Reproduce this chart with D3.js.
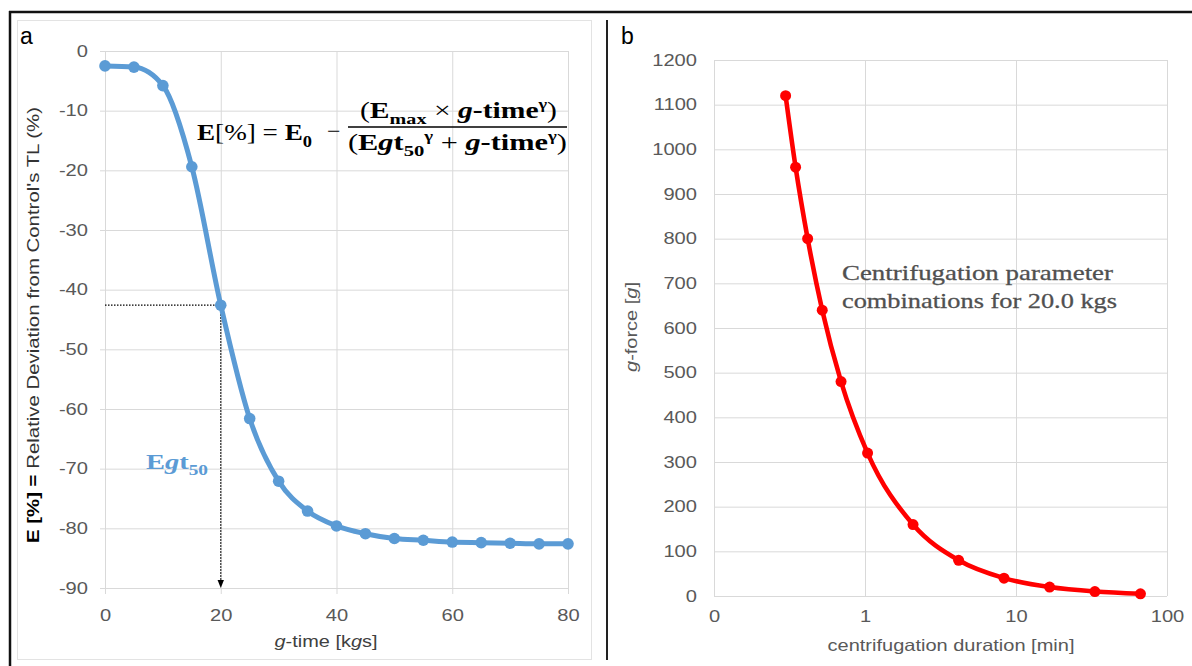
<!DOCTYPE html>
<html><head><meta charset="utf-8">
<script src="https://cdn.jsdelivr.net/npm/d3@7"></script>
<style>body{margin:0;background:#fff}svg{display:block}</style>
</head><body><svg id="c" width="1192" height="666"></svg>
<script>
// ---------- data: panel a ----------
const gTime = [0, 5, 10, 15, 20, 25, 30, 35, 40, 45, 50, 55, 60, 65, 70, 75, 80];
const eValues = [-2.5, -2.7, -5.8, -19.4, -42.6, -61.6, -72.1, -77.1, -79.6, -80.9, -81.7, -82.0, -82.3, -82.4, -82.5, -82.6, -82.6];
const leftXTicks = [0, 20, 40, 60, 80];
const leftYTicks = [0, -10, -20, -30, -40, -50, -60, -70, -80, -90];
const egt50 = 20;
// ---------- data: panel b ----------
const duration = [0.298, 0.347, 0.417, 0.521, 0.694, 1.04, 2.08, 4.17, 8.33, 16.7, 33.3, 66.7];
const gForce = [1120, 960, 800, 640, 480, 320, 160, 80, 40, 20, 10, 5];
const rightXTicks = [0.1, 1, 10, 100];
const rightXTickLabels = ["0", "1", "10", "100"];
const rightYTicks = [0, 100, 200, 300, 400, 500, 600, 700, 800, 900, 1000, 1100, 1200];

const svg = d3.select("#c");
const SANS = "'Liberation Sans', Arial, sans-serif";
const SERIF = "'Liberation Serif', 'DejaVu Serif', serif";
const GRID = "#d9d9d9", TICKTXT = "#595959";
const BLUE = "#5b9bd5", RED = "#ff0000";

function stretch(sel, sx) {
  sel.each(function () {
    const t = d3.select(this);
    const x = +t.attr("x") || 0, y = +t.attr("y") || 0;
    t.attr("x", 0).attr("y", 0).attr("transform", `translate(${x},${y}) scale(${sx},1)`);
  });
}

// ---------- frames ----------
svg.append("rect").attr("x", 17.5).attr("y", 20.5).attr("width", 574).attr("height", 639)
  .attr("fill", "none").attr("stroke", "#e3e3e3").attr("stroke-width", 1);
svg.append("line").attr("x1", 9).attr("x2", 1192).attr("y1", 12).attr("y2", 12)
  .attr("stroke", "#111").attr("stroke-width", 2.5);
svg.append("line").attr("x1", 10).attr("x2", 10).attr("y1", 11).attr("y2", 666)
  .attr("stroke", "#111").attr("stroke-width", 2.5);
svg.append("line").attr("x1", 607).attr("x2", 607).attr("y1", 20).attr("y2", 660)
  .attr("stroke", "#222").attr("stroke-width", 2);

// ---------- panel a ----------
const xL = d3.scaleLinear().domain([0, 80]).range([105, 568]);
const yL = d3.scaleLinear().domain([0, -90]).range([51, 588]);

svg.append("g").attr("transform", `translate(0,${yL(-90)})`)
  .call(d3.axisBottom(xL).tickValues(leftXTicks).tickSize(-(yL(-90) - yL(0))).tickFormat(""))
  .call(g => { g.select(".domain").remove(); g.selectAll("line").attr("stroke", GRID); });
svg.append("g").attr("transform", `translate(${xL(0)},0)`)
  .call(d3.axisLeft(yL).tickValues(leftYTicks).tickSize(-(xL(80) - xL(0))).tickFormat(""))
  .call(g => { g.select(".domain").remove(); g.selectAll("line").attr("stroke", GRID); });
const axLB = svg.append("g").attr("transform", `translate(0,${yL(-90)})`)
  .call(d3.axisBottom(xL).tickValues(leftXTicks).tickSize(6).tickPadding(15).tickFormat(d3.format("d")));
const axLL = svg.append("g").attr("transform", `translate(${xL(0)},0)`)
  .call(d3.axisLeft(yL).tickValues(leftYTicks).tickSize(5).tickPadding(12).tickFormat(d3.format("d")));
[axLB, axLL].forEach(a => {
  a.select(".domain").remove();
  a.selectAll("line").attr("stroke", GRID);
  a.selectAll("text").attr("fill", TICKTXT).attr("font-family", SANS).attr("font-size", 16.5);
  stretch(a.selectAll("text"), 1.22);
});
axLL.selectAll("text").text(d => d === 0 ? "0" : "-" + Math.abs(d));

// dotted guide lines
const egtY = eValues[gTime.indexOf(egt50)];
svg.append("line").attr("x1", xL(0)).attr("x2", xL(egt50)).attr("y1", yL(egtY)).attr("y2", yL(egtY))
  .attr("stroke", "#000").attr("stroke-width", 1.3).attr("stroke-dasharray", "1.5,1.5");
svg.append("line").attr("x1", xL(egt50)).attr("x2", xL(egt50)).attr("y1", yL(egtY)).attr("y2", yL(-90) - 6)
  .attr("stroke", "#000").attr("stroke-width", 1.3).attr("stroke-dasharray", "1.5,1.5");
svg.append("path")
  .attr("d", `M${xL(egt50) - 3.2},${yL(-90) - 8} L${xL(egt50) + 3.2},${yL(-90) - 8} L${xL(egt50)},${yL(-90)} Z`)
  .attr("fill", "#000");

const lineL = d3.line().x((d, i) => xL(gTime[i])).y(d => yL(d)).curve(d3.curveMonotoneX);
svg.append("path").datum(eValues).attr("d", lineL).attr("fill", "none")
  .attr("stroke", BLUE).attr("stroke-width", 5).attr("stroke-linejoin", "round");
svg.append("g").selectAll("circle").data(eValues).join("circle")
  .attr("cx", (d, i) => xL(gTime[i])).attr("cy", d => yL(d)).attr("r", 5.8).attr("fill", BLUE);

// axis titles
svg.append("text").attr("x", 326).attr("y", 647).attr("text-anchor", "middle")
  .attr("font-family", SANS).attr("font-size", 16.5).attr("fill", "#404040")
  .attr("textLength", 103).attr("lengthAdjust", "spacingAndGlyphs")
  .call(t => {
    t.append("tspan").attr("font-style", "italic").text("g");
    t.append("tspan").text("-time [k");
    t.append("tspan").attr("font-style", "italic").text("g");
    t.append("tspan").text("s]");
  });
svg.append("text").attr("transform", "translate(39,325) rotate(-90)").attr("text-anchor", "middle")
  .attr("font-family", SANS).attr("font-size", 16.5).attr("fill", "#333")
  .attr("textLength", 436).attr("lengthAdjust", "spacingAndGlyphs")
  .call(t => {
    t.append("tspan").attr("font-weight", "bold").attr("fill", "#000").text("E [%] =");
    t.append("tspan").text(" Relative Deviation from Control's TL (%)");
  });
svg.append("text").attr("x", 20).attr("y", 44).attr("font-family", SANS).attr("font-size", 23)
  .attr("fill", "#000").text("a");

function richText(x, y, parts, opts) {
  const t = svg.append("text").attr("x", x).attr("y", y)
    .attr("font-family", SERIF).attr("font-size", opts.size).attr("fill", opts.fill || "#000");
  if (opts.len) t.attr("textLength", opts.len).attr("lengthAdjust", "spacingAndGlyphs");
  let off = 0;
  parts.forEach(p => {
    const s = t.append("tspan").text(p.t);
    if (p.b) s.attr("font-weight", "bold");
    if (p.i) s.attr("font-style", "italic");
    let target = 0;
    if (p.s === "sub") { target = opts.size * 0.28; s.attr("font-size", opts.size * 0.68); }
    if (p.s === "sup") { target = -opts.size * 0.38; s.attr("font-size", opts.size * 0.62); }
    if (target !== off) { s.attr("dy", target - off); off = target; }
  });
  return t;
}
richText(197, 140, [
  { t: "E", b: 1 }, { t: "[%] = " }, { t: "E", b: 1 }, { t: "0", b: 1, s: "sub" }
], { size: 24, len: 115 });
richText(327, 139, [{ t: "−" }], { size: 24 });
richText(360, 118, [
  { t: "(" }, { t: "E", b: 1 }, { t: "max", b: 1, s: "sub" }, { t: " × " },
  { t: "g", b: 1, i: 1 }, { t: "-time", b: 1 }, { t: "γ", b: 1, s: "sup" }, { t: ")" }
], { size: 23, len: 197 });
svg.append("line").attr("x1", 348).attr("x2", 567).attr("y1", 127).attr("y2", 127)
  .attr("stroke", "#000").attr("stroke-width", 1.5);
richText(348, 150, [
  { t: "(" }, { t: "E", b: 1 }, { t: "g", b: 1, i: 1 }, { t: "t", b: 1 }, { t: "50", b: 1, s: "sub" },
  { t: "γ", b: 1, s: "sup" }, { t: " + " }, { t: "g", b: 1, i: 1 }, { t: "-time", b: 1 },
  { t: "γ", b: 1, s: "sup" }, { t: ")" }
], { size: 23, len: 219 });
richText(146, 469, [
  { t: "E", b: 1 }, { t: "g", b: 1, i: 1 }, { t: "t", b: 1 }, { t: "50", b: 1, s: "sub" }
], { size: 21, len: 62, fill: BLUE });

// ---------- panel b ----------
const xR = d3.scaleLog().domain([0.1, 100]).range([714, 1167]);
const yR = d3.scaleLinear().domain([0, 1200]).range([596, 60]);

svg.append("g").attr("transform", `translate(0,${yR(0)})`)
  .call(d3.axisBottom(xR).tickValues(rightXTicks).tickSize(-(yR(0) - yR(1200))).tickFormat(""))
  .call(g => { g.select(".domain").remove(); g.selectAll("line").attr("stroke", GRID); });
svg.append("g").attr("transform", `translate(${xR(0.1)},0)`)
  .call(d3.axisLeft(yR).tickValues(rightYTicks).tickSize(-(xR(100) - xR(0.1))).tickFormat(""))
  .call(g => { g.select(".domain").remove(); g.selectAll("line").attr("stroke", GRID); });
const axRB = svg.append("g").attr("transform", `translate(0,${yR(0)})`)
  .call(d3.axisBottom(xR).tickValues(rightXTicks).tickSize(0).tickPadding(14.5)
    .tickFormat((d, i) => rightXTickLabels[i]));
const axRL = svg.append("g").attr("transform", `translate(${xR(0.1)},0)`)
  .call(d3.axisLeft(yR).tickValues(rightYTicks).tickSize(0).tickPadding(17).tickFormat(d3.format("d")));
[axRB, axRL].forEach(a => {
  a.select(".domain").remove();
  a.selectAll("line").remove();
  a.selectAll("text").attr("fill", TICKTXT).attr("font-family", SANS).attr("font-size", 16.5);
  stretch(a.selectAll("text"), 1.22);
});

const lineR = d3.line().x((d, i) => xR(duration[i])).y(d => yR(d)).curve(d3.curveMonotoneX);
svg.append("path").datum(gForce).attr("d", lineR).attr("fill", "none")
  .attr("stroke", RED).attr("stroke-width", 4.6).attr("stroke-linejoin", "round");
svg.append("g").selectAll("circle").data(gForce).join("circle")
  .attr("cx", (d, i) => xR(duration[i])).attr("cy", d => yR(d)).attr("r", 5.5).attr("fill", RED);

svg.append("text").attr("x", 951).attr("y", 651).attr("text-anchor", "middle")
  .attr("font-family", SANS).attr("font-size", 16.5).attr("fill", "#595959")
  .attr("textLength", 247).attr("lengthAdjust", "spacingAndGlyphs")
  .text("centrifugation duration [min]");
svg.append("text").attr("transform", "translate(637,327) rotate(-90)").attr("text-anchor", "middle")
  .attr("font-family", SANS).attr("font-size", 16).attr("fill", "#595959")
  .attr("textLength", 90).attr("lengthAdjust", "spacingAndGlyphs")
  .call(t => {
    t.append("tspan").attr("font-style", "italic").text("g");
    t.append("tspan").text("-force [");
    t.append("tspan").attr("font-style", "italic").text("g");
    t.append("tspan").text("]");
  });
svg.append("text").attr("x", 621).attr("y", 44).attr("font-family", SANS).attr("font-size", 23)
  .attr("fill", "#000").text("b");

svg.append("text").attr("x", 842).attr("y", 280).attr("font-family", SERIF).attr("font-size", 22)
  .attr("fill", "#505050").attr("stroke", "#505050").attr("stroke-width", 0.3)
  .attr("textLength", 271).attr("lengthAdjust", "spacingAndGlyphs")
  .text("Centrifugation parameter");
svg.append("text").attr("x", 842).attr("y", 308).attr("font-family", SERIF).attr("font-size", 22)
  .attr("fill", "#505050").attr("stroke", "#505050").attr("stroke-width", 0.3)
  .attr("textLength", 275).attr("lengthAdjust", "spacingAndGlyphs")
  .text("combinations for 20.0 kgs");
</script>
</body></html>
